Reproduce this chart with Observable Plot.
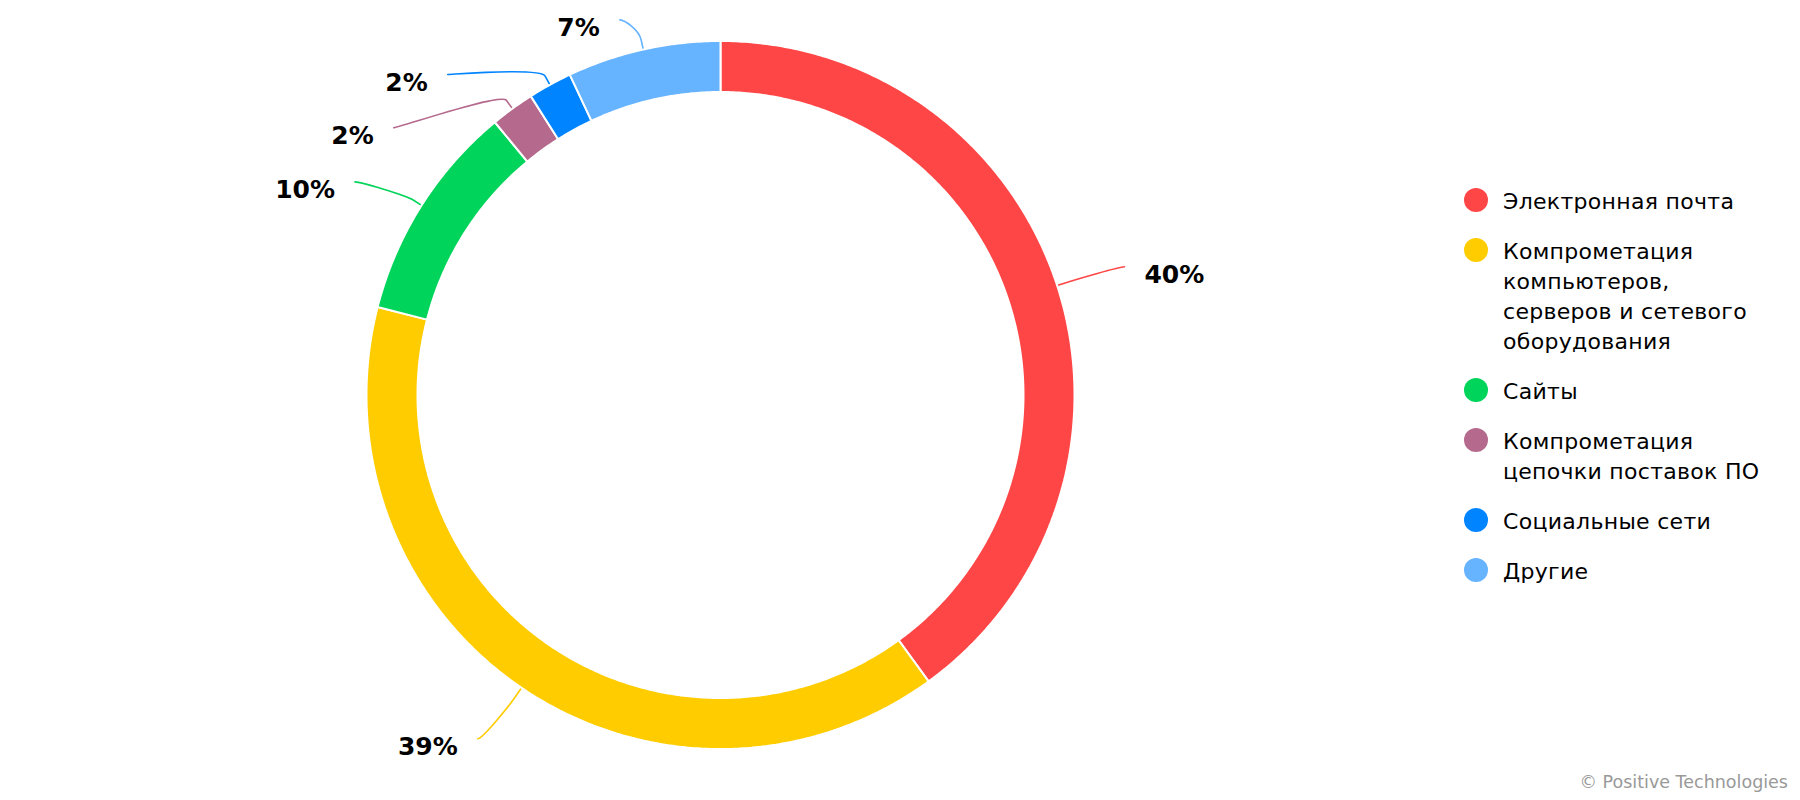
<!DOCTYPE html>
<html>
<head>
<meta charset="utf-8">
<script src="https://cdn.jsdelivr.net/npm/d3@7"></script>
<script src="https://cdn.jsdelivr.net/npm/@observablehq/plot@0.6"></script>
<style>
  html, body { margin: 0; padding: 0; background: #fff; }
  body { font-family: "DejaVu Sans", sans-serif; }
  #wrap { position: relative; width: 1800px; height: 800px; overflow: hidden; }
  #legend { position: absolute; left: 1464px; top: 187px; }
  .item { display: flex; align-items: flex-start; margin-bottom: 20px; font-size: 22px; line-height: 30px; color: #000; letter-spacing: 0.3px; }
  .sw { width: 24px; height: 24px; border-radius: 50%; margin-top: 1px; margin-right: 15px; flex: none; }
  .lbl { width: 270px; }
  #credit { position: absolute; right: 12px; top: 772px; font-size: 17.5px; line-height: 20px; color: #999; white-space: nowrap; }
</style>
</head>
<body>
<div id="wrap">
  <div id="chart"></div>
  <div id="legend"></div>
  <div id="credit">© Positive Technologies</div>
</div>
<script>
// ---- data ----
const categories = [
  "Электронная почта",
  "Компрометация компьютеров, серверов и сетевого оборудования",
  "Сайты",
  "Компрометация цепочки поставок ПО",
  "Социальные сети",
  "Другие"
];
const shares = [40, 39, 10, 2, 2, 7];
const labels = ["40%", "39%", "10%", "2%", "2%", "7%"];
const colors = ["#FF4646", "#FFCC00", "#00D45A", "#B5698C", "#0084FF", "#66B3FF"];

// ---- layout ----
const W = 1800, H = 800;
const center = [720, 394.5];
const rOuter = 354, rInner = 303;
// connector end offsets from the point where the connector touches the slice
const connectorOffsets = [[67.3, -18.8], [-43.7, 51], [-66.6, -23.4], [-118.7, 19.2], [-102.2, -10.3], [-23.5, -29.7]];
const breakDistance = 10;
const textGap = 20, textDrop = 8.5;

const arcs = d3.pie().sort(null).value(d => d)(shares);
const pt = (a, r) => [center[0] + r * Math.sin(a), center[1] - r * Math.cos(a)];

// slice polygons
const slicePts = [];
arcs.forEach((a, i) => {
  const n = Math.max(6, Math.ceil((a.endAngle - a.startAngle) * 180 / Math.PI * 2));
  for (let k = 0; k <= n; k++) {
    const t = a.startAngle + (a.endAngle - a.startAngle) * k / n;
    const [x, y] = pt(t, rOuter);
    slicePts.push({key: categories[i], x, y});
  }
  for (let k = n; k >= 0; k--) {
    const t = a.startAngle + (a.endAngle - a.startAngle) * k / n;
    const [x, y] = pt(t, rInner);
    slicePts.push({key: categories[i], x, y});
  }
});

// connectors + labels
const connPts = [];
const labelRows = [];
arcs.forEach((a, i) => {
  const mid = (a.startAngle + a.endAngle) / 2;
  const touch = pt(mid, rOuter);
  const brk = pt(mid, rOuter + breakDistance);
  const end = [touch[0] + connectorOffsets[i][0], touch[1] + connectorOffsets[i][1]];
  const right = end[0] > center[0];
  const c1 = [end[0] + (right ? -5 : 5), end[1]];
  const c2 = [2 * brk[0] - touch[0], 2 * brk[1] - touch[1]];
  [end, c1, c2, brk, touch].forEach(p => connPts.push({key: categories[i], x: p[0], y: p[1]}));
  labelRows.push({
    key: categories[i], text: labels[i], right,
    x: end[0] + (right ? textGap : -textGap),
    y: end[1] + textDrop
  });
});

// Highcharts-like soft connector curve: M p0 C c1 c2 b L t
function softConnector(context) {
  let pts = [];
  return {
    areaStart() {}, areaEnd() {},
    lineStart() { pts = []; },
    point(x, y) { pts.push([+x, +y]); },
    lineEnd() {
      if (pts.length < 5) return;
      const [p0, c1, c2, b, t] = pts;
      context.moveTo(p0[0], p0[1]);
      context.bezierCurveTo(c1[0], c1[1], c2[0], c2[1], b[0], b[1]);
      context.lineTo(t[0], t[1]);
    }
  };
}

const chart = Plot.plot({
  width: W, height: H,
  margin: 0,
  style: {fontFamily: "'DejaVu Sans', sans-serif", background: "#fff"},
  x: {domain: [0, W], range: [0, W], axis: null},
  y: {domain: [0, H], range: [0, H], axis: null},
  color: {domain: categories, range: colors},
  marks: [
    Plot.line(connPts, {x: "x", y: "y", z: "key", stroke: "key", strokeWidth: 1.6, curve: softConnector}),
    Plot.line(slicePts, {x: "x", y: "y", z: "key", fill: "key", stroke: "white", strokeWidth: 2, strokeLinejoin: "miter", curve: "linear-closed"}),
    Plot.text(labelRows.filter(d => d.right), {x: "x", y: "y", text: "text", textAnchor: "start", fontWeight: "bold", fontSize: 25, fill: "#000"}),
    Plot.text(labelRows.filter(d => !d.right), {x: "x", y: "y", text: "text", textAnchor: "end", fontWeight: "bold", fontSize: 25, fill: "#000"})
  ]
});
document.getElementById("chart").appendChild(chart);

// legend
const legend = document.getElementById("legend");
categories.forEach((c, i) => {
  const item = document.createElement("div");
  item.className = "item";
  const sw = document.createElement("div");
  sw.className = "sw";
  sw.style.background = colors[i];
  const lbl = document.createElement("div");
  lbl.className = "lbl";
  lbl.textContent = c;
  item.appendChild(sw);
  item.appendChild(lbl);
  legend.appendChild(item);
});
</script>
</body>
</html>
